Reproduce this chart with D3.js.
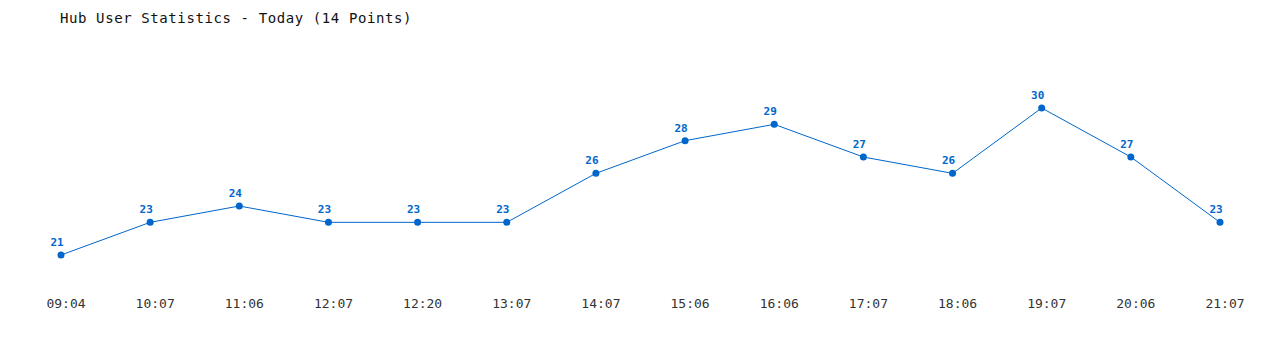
<!DOCTYPE html>
<html>
  <head>
    <meta charset="utf-8">
    <script type="text/javascript" src="https://cdn.jsdelivr.net/npm/d3@7"></script>
    <style>
      body { margin: 0; background: #fff; }
    </style>
  </head>
  <body>
    <script type="text/javascript">

var times = ["09:04", "10:07", "11:06", "12:07", "12:20", "13:07", "14:07",
             "15:06", "16:06", "17:07", "18:06", "19:07", "20:06", "21:07"];
var users = [21, 23, 24, 23, 23, 23, 26, 28, 29, 27, 26, 30, 27, 23];

var w = 1280;
var h = 350;
var blue = "#0066cc";
var mono = "'DejaVu Sans Mono', 'Liberation Mono', monospace";

var svg =
  d3.select("body")
    .append("svg")
    .attr("width", w)
    .attr("height", h);

svg.append("text")
  .attr("x", 60)
  .attr("y", 23)
  .style("font-family", mono)
  .style("font-size", "14px")
  .style("letter-spacing", "0.6px")
  .style("font-weight", "500")
  .style("fill", "#111")
  .text("Hub User Statistics - Today (" + users.length + " Points)");

var x = d3.scalePoint()
  .domain(times)
  .range([61, 1220]);

var y = d3.scaleLinear()
  .domain([21, 30])
  .range([255, 108]);

// tick labels sit a little right of their points in the original
var axis = svg.append("g")
  .attr("transform", "translate(4.5,303)")
  .call(d3.axisBottom(x).tickSize(0).tickPadding(0));
axis.select(".domain").remove();
axis.selectAll("text")
  .attr("dy", "0.35em")
  .style("font-family", mono)
  .style("font-size", "13px")
  .style("fill", "#333");

var line = d3.line()
  .x(function(d, i) { return x(times[i]); })
  .y(function(d) { return y(d); });

svg.append("path")
  .datum(users)
  .attr("d", line)
  .style("fill", "none")
  .style("stroke", blue)
  .style("stroke-width", 1);

svg.selectAll("circle")
  .data(users)
  .enter()
  .append("circle")
  .attr("cx", function(d, i) { return x(times[i]); })
  .attr("cy", function(d) { return y(d); })
  .attr("r", 3.5)
  .style("fill", blue);

svg.selectAll("text.val")
  .data(users)
  .enter()
  .append("text")
  .attr("class", "val")
  .attr("x", function(d, i) { return x(times[i]) - 4; })
  .attr("y", function(d) { return y(d) - 9; })
  .attr("text-anchor", "middle")
  .style("font-family", mono)
  .style("font-size", "11px")
  .style("font-weight", "bold")
  .style("fill", blue)
  .text(function(d) { return d; });

    </script>
  </body>
</html>
